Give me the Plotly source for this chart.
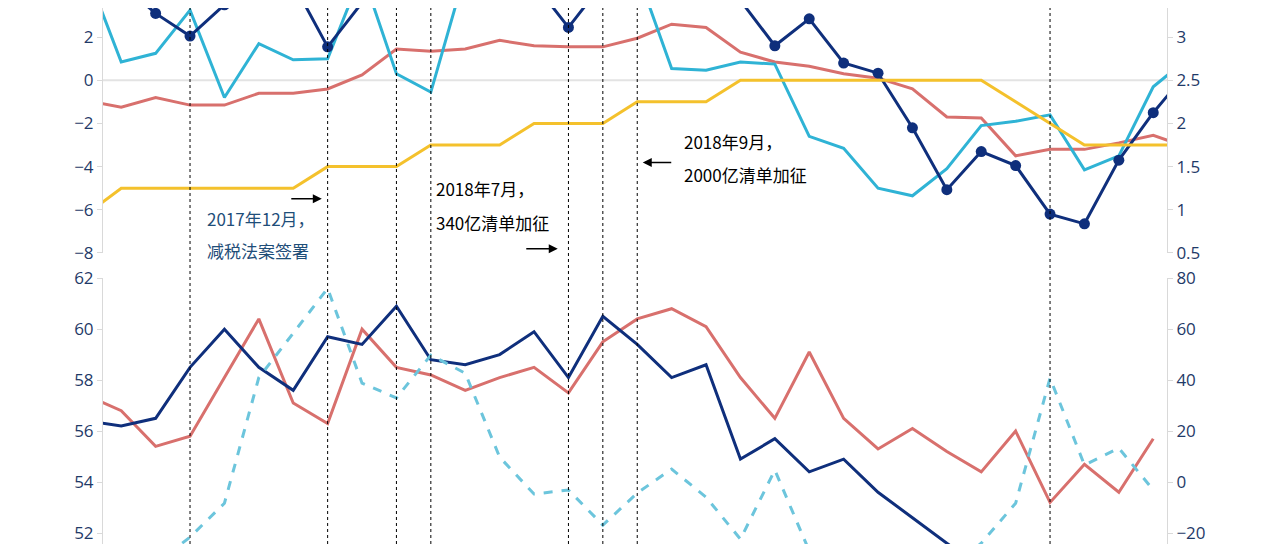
import plotly.graph_objects as go
from plotly.subplots import make_subplots

months = list(range(0, 33))

# top panel, left axis
top_navy = [5.0, 4.5, 3.1, 2.05, 3.5, 5.0, 4.5, 1.55, 3.6, 5.0, 5.0, 5.0, 5.0, 4.5, 2.45, 4.5,
            5.0, 5.0, 5.0, 3.7, 1.6, 2.85, 0.8, 0.33, -2.2, -5.07, -3.3, -3.95, -6.2, -6.65, -3.7, -1.5, 0.4]
top_cyan = [5.0, 0.85, 1.25, 3.25, -0.8, 1.7, 0.95, 1.0, 5.0, 0.3, -0.55, 5.0, 5.0, 5.0, 5.0, 5.0,
            5.0, 0.55, 0.47, 0.85, 0.75, -2.6, -3.15, -5.0, -5.35, -4.1, -2.1, -1.9, -1.6, -4.15, -3.5, -0.3, 1.0]
top_red = [-0.95, -1.25, -0.8, -1.15, -1.15, -0.6, -0.6, -0.4, 0.25, 1.45, 1.35, 1.45, 1.85, 1.6, 1.55, 1.55,
           1.95, 2.6, 2.45, 1.3, 0.85, 0.65, 0.3, 0.1, -0.4, -1.7, -1.75, -3.5, -3.2, -3.2, -2.9, -2.55, -3.1]
# top panel, right axis
top_yellow = [0.95, 1.25, 1.25, 1.25, 1.25, 1.25, 1.25, 1.5, 1.5, 1.5, 1.75, 1.75, 1.75, 2.0, 2.0, 2.0,
              2.25, 2.25, 2.25, 2.5, 2.5, 2.5, 2.5, 2.5, 2.5, 2.5, 2.5, 2.25, 2.0, 1.75, 1.75, 1.75, 1.75]

# bottom panel, left axis
bot_navy = [56.4, 56.2, 56.5, 58.5, 60.0, 58.5, 57.6, 59.7, 59.4, 60.9, 58.8, 58.6, 59.0, 59.9, 58.1, 60.5,
            59.4, 58.1, 58.6, 54.9, 55.7, 54.4, 54.9, 53.6, 52.6, 51.6, 50.6, 49.8, 49.2, 49.0, 49.0, 49.0, 49.0]
bot_red = [57.4, 56.8, 55.4, 55.8, 58.1, 60.4, 57.1, 56.3, 60.0, 58.5, 58.2, 57.6, 58.1, 58.5, 57.5, 59.5,
           60.4, 60.8, 60.1, 58.1, 56.5, 59.1, 56.5, 55.3, 56.1, 55.2, 54.4, 56.0, 53.2, 54.7, 53.6, 55.7, None]
# bottom panel, right axis
bot_dash = [-40, -40, -32, -21.6, -8.3, 41, 58.4, 76, 38.8, 33, 49.8, 42.7, 9.8, -4.7, -3.1, -16.9,
            -4.3, 5.1, -5.9, -22.4, 4.7, -27, -35, -40, -40, -35, -24, -8.3, 40.8, 6.7, 13.3, -3.1, None]

event_months = [3, 7, 9, 10, 14, 15, 16, 28]

NAVY = "#0f2f7c"
CYAN = "#2fb3d5"
RED = "#d8706d"
YELLOW = "#f4c12c"
LCYAN = "#6cc5dc"
TICK = "#1f3a68"

fig = make_subplots(rows=2, cols=1, specs=[[{"secondary_y": True}], [{"secondary_y": True}]])

fig.add_trace(go.Scatter(x=months, y=top_red, mode="lines", line=dict(color=RED, width=3)), row=1, col=1)
fig.add_trace(go.Scatter(x=months, y=top_cyan, mode="lines", line=dict(color=CYAN, width=3)), row=1, col=1)
fig.add_trace(go.Scatter(x=months, y=top_yellow, mode="lines", line=dict(color=YELLOW, width=3)),
              row=1, col=1, secondary_y=True)
fig.add_trace(go.Scatter(x=months, y=top_navy, mode="lines+markers", line=dict(color=NAVY, width=3),
                         marker=dict(size=11, color=NAVY)), row=1, col=1)

fig.add_trace(go.Scatter(x=months, y=bot_dash, mode="lines", line=dict(color=LCYAN, width=3, dash="dash")),
              row=2, col=1, secondary_y=True)
fig.add_trace(go.Scatter(x=months, y=bot_red, mode="lines", line=dict(color=RED, width=3)), row=2, col=1)
fig.add_trace(go.Scatter(x=months, y=bot_navy, mode="lines", line=dict(color=NAVY, width=3)), row=2, col=1)

axis_style = dict(showgrid=False, showline=True, linecolor="#d9d9d9", ticks="outside", tickcolor="#d9d9d9",
                  tickfont=dict(size=17, color=TICK, family="Open Sans"), zeroline=False, automargin=False)
fig.update_xaxes(range=[0.47, 31.4], domain=[0, 1], showticklabels=False, showgrid=False,
                 zeroline=False, showline=False)
fig.update_yaxes(range=[-8, 3.35], dtick=2, row=1, col=1, secondary_y=False, **axis_style)
fig.update_yaxes(range=[0.5, 3.337], dtick=0.5, row=1, col=1, secondary_y=True, **axis_style)
fig.update_yaxes(range=[51.57, 62], dtick=2, row=2, col=1, secondary_y=False, **axis_style)
fig.update_yaxes(range=[-24.3, 80], dtick=20, row=2, col=1, secondary_y=True, **axis_style)
fig.layout.yaxis.domain = [0.543, 1]
fig.layout.yaxis2.domain = [0.543, 1]
fig.layout.yaxis3.domain = [0, 0.496]
fig.layout.yaxis4.domain = [0, 0.496]

# zero line of top panel
fig.add_shape(type="line", xref="x", yref="y", x0=0.47, x1=31.4, y0=0, y1=0,
              line=dict(color="#e3e3e3", width=2), layer="below")

for m in event_months:
    fig.add_shape(type="line", xref="x", yref="paper", x0=m, x1=m, y0=0, y1=1,
                  line=dict(color="black", width=1, dash="dot"))

notes = [
    (3.43, -6.42, "2017年12月，", "#1f4e79"),
    (3.43, -7.9, "减税法案签署", "#1f4e79"),
    (10.1, -5.0, "2018年7月，", "black"),
    (10.1, -6.6, "340亿清单加征", "black"),
    (17.3, -2.83, "2018年9月，", "black"),
    (17.3, -4.35, "2000亿清单加征", "black"),
]
for x, y, t, c in notes:
    fig.add_annotation(x=x, y=y, xref="x", yref="y", text=t, showarrow=False, xanchor="left",
                       font=dict(size=17, color=c, family="Noto Sans CJK SC"))

arrows = [(6.83, -5.49, -32), (13.69, -7.81, -33), (16.16, -3.81, 30)]
for x, y, ax in arrows:
    fig.add_annotation(x=x, y=y, xref="x", yref="y", ax=ax, ay=0, text="", showarrow=True,
                       arrowhead=2, arrowsize=1.2, arrowwidth=1.5, arrowcolor="black")

fig.update_layout(width=1272, height=536, margin=dict(l=95, r=113, t=0, b=0),
                  plot_bgcolor="white", paper_bgcolor="white", showlegend=False)

fig.write_html("out.html")
